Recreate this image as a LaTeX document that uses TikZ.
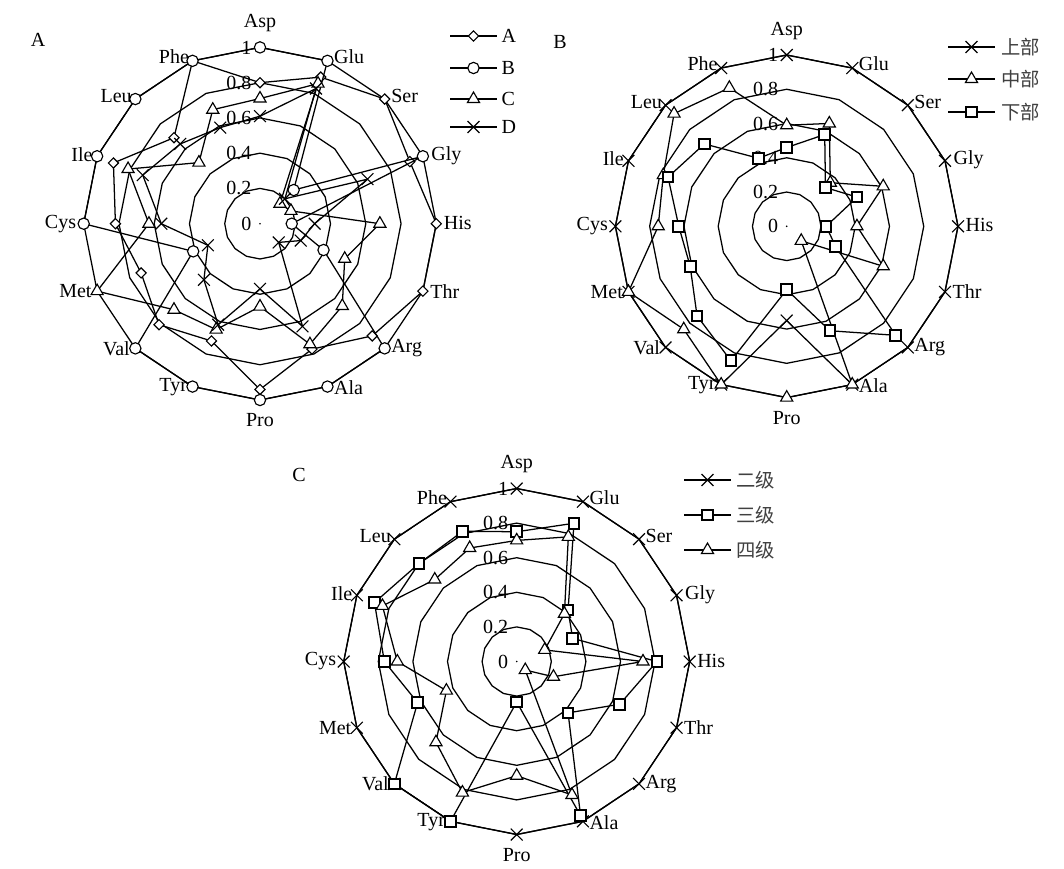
\documentclass[tikz,border=0pt]{standalone}
\usepackage{fontspec}
\setmainfont{Liberation Serif}
\newfontfamily\cjk{Noto Sans CJK SC}
\usetikzlibrary{shapes.geometric,shapes.misc}

\tikzset{
  ring/.style={line width=0.95pt, line join=round},
  serie/.style={line width=0.95pt, line join=round},
  axlab/.style={inner sep=1pt, font=\fontsize{15}{17}\selectfont},
  ticklab/.style={inner sep=1pt, anchor=east, font=\fontsize{15}{17}\selectfont},
  cjklab/.style={inner sep=1pt, anchor=west, text=black!75, font=\fontsize{14.5}{17}\selectfont\cjk},
  mkdia/.style={diamond, draw, fill=white, line width=0.85pt, inner sep=0pt, minimum size=8pt},
  mkcirc/.style={circle, draw, fill=white, line width=0.85pt, inner sep=0pt, minimum size=8.5pt},
  mktri/.style={regular polygon, regular polygon sides=3, draw, fill=white, line width=0.85pt, inner sep=0pt, minimum size=10.5pt},
  mkx/.style={cross out, draw, line width=0.85pt, inner sep=0pt, minimum size=8pt},
  mksq/.style={rectangle, draw, fill=white, line width=1.5pt, inner sep=0pt, minimum size=8pt},
}

% rings, ticks and centre dot of one chart (radius \R)
\newcommand\gridrings{%
  \foreach \r in {0.2,0.4,0.6,0.8,1}
    \draw[ring] ({-90}:{\r*\R}) \foreach \k in {1,...,15}{ -- ({-90+22.5*\k}:{\r*\R})} -- cycle;
  \foreach \tv in {0,0.2,0.4,0.6,0.8,1}
    \node[ticklab] at (-7,{-\tv*\R}) {\tv};
  \fill (0,0) circle (0.7pt);
}
% amino acid names round one chart
\newcommand\axlabels[1]{%
  \foreach \nm/\an/\dx/\dy [count=\k from 0] in {Asp/south/0/-14, Glu/west/5/-4, Ser/west/5/-3, Gly/west/7/-1,
      His/west/6/-1, Thr/west/6/0, Arg/west/5/0, Ala/west/5/1, Pro/north/0/12, Tyr/east/-4/1,
      Val/east/-4/0, Met/east/-4/0, Cys/east/-6/0, Ile/east/-3/-2, Leu/east/-2/-3, Phe/east/-2/-4}
    \node[axlab, anchor=\an] (#1-\nm) at ({\R*cos(-90+22.5*\k)+\dx},{\R*sin(-90+22.5*\k)+\dy}) {\nm};
}
% one data series: name, marker, 16 values
\newcommand\serie[3]{%
  \foreach \v [count=\k from 0] in {#3}
    \coordinate (#1\k) at ({-90+22.5*\k}:{\v*\R});
  \draw[serie] (#10) \foreach \k in {1,...,15}{ -- (#1\k)} -- cycle;
  \foreach \k in {0,...,15} \node[#2] at (#1\k) {};
}
% legend entry: x, y, marker, name
\newcommand\legitem[5]{%
  \coordinate (#5a) at (#1,#2);
  \coordinate (#5b) at ({#1+47},#2);
  \draw[serie] (#5a) -- (#5b);
  \node[#3] (#5m) at ({#1+23.5},#2) {};
  #4
}

\begin{document}
\begin{tikzpicture}[x=0.75pt, y=-0.75pt]
\fill[white] (0,0) rectangle (1064,868);
\useasboundingbox (0,0) rectangle (1064,868);

% chart A
\begin{scope}[shift={(260,223.7)}]
\def\R{176.3}
\gridrings
\serie{sa}{mkdia}{0.80,0.90,1,0.92,1,1,0.90,0.77,0.94,0.72,0.81,0.73,0.82,0.90,0.69,1}
\serie{sb}{mkcirc}{1,1,0.27,1,0.18,0.39,1,1,1,1,1,0.41,1,1,1,1}
\serie{sc}{mktri}{0.71,0.86,0.16,0.19,0.68,0.52,0.66,0.74,0.47,0.65,0.69,1,0.63,0.81,0.49,0.70}
\serie{sd}{mkx}{0.61,0.83,0.20,0.66,0.31,0.25,0.15,0.63,0.37,0.62,0.45,0.32,0.56,0.72,0.64,0.59}
\axlabels{pa}
\end{scope}
\node[axlab] (titA) at (38,40) {A};
\legitem{450}{36}{mkdia}{\node[axlab,anchor=west] (legA) at (500,36) {A};}{la}
\legitem{450}{68}{mkcirc}{\node[axlab,anchor=west] (legB) at (500,68) {B};}{lb}
\legitem{450}{99}{mktri}{\node[axlab,anchor=west] (legC) at (500,99) {C};}{lc}
\legitem{450}{127}{mkx}{\node[axlab,anchor=west] (legD) at (500,127) {D};}{ld}

% chart B
\begin{scope}[shift={(786.7,226.3)}]
\def\R{171.3}
\gridrings
\serie{ta}{mkx}{1,1,1,1,1,1,1,1,0.55,1,1,1,1,1,1,1}
\serie{tb}{mktri}{0.59,0.65,0.36,0.61,0.41,0.61,0.12,1,1,1,0.85,1,0.75,0.78,0.93,0.875}
\serie{tc}{mksq}{0.46,0.58,0.32,0.445,0.23,0.31,0.9,0.66,0.37,0.85,0.74,0.61,0.63,0.75,0.68,0.43}
\axlabels{pb}
\end{scope}
\node[axlab] (titB) at (560,42) {B};
\legitem{948}{47}{mkx}{\node[cjklab] (legup) at (1000,47) {上部};}{ma}
\legitem{948}{79}{mktri}{\node[cjklab] (legmid) at (1000,79) {中部};}{mb}
\legitem{948}{112}{mksq}{\node[cjklab] (leglow) at (1000,112) {下部};}{mc}

% chart C
\begin{scope}[shift={(516.7,661.5)}]
\def\R{173}
\gridrings
\serie{ua}{mkx}{1,1,1,1,1,1,1,1,1,1,1,1,1,1,1,1}
\serie{ub}{mksq}{0.75,0.865,0.42,0.35,0.81,0.645,0.42,0.965,0.234,1,1,0.62,0.765,0.89,0.80,0.815}
\serie{uc}{mktri}{0.70,0.78,0.39,0.175,0.73,0.23,0.07,0.835,0.66,0.82,0.66,0.44,0.69,0.84,0.67,0.71}
\axlabels{pc}
\end{scope}
\node[axlab] (titC) at (299,475) {C};
\legitem{684}{480}{mkx}{\node[cjklab] (legtwo) at (735,480) {二级};}{na}
\legitem{684}{515}{mksq}{\node[cjklab] (legthree) at (735,515) {三级};}{nb}
\legitem{684}{550}{mktri}{\node[cjklab] (legfour) at (735,550) {四级};}{nc}
\end{tikzpicture}
\end{document}
